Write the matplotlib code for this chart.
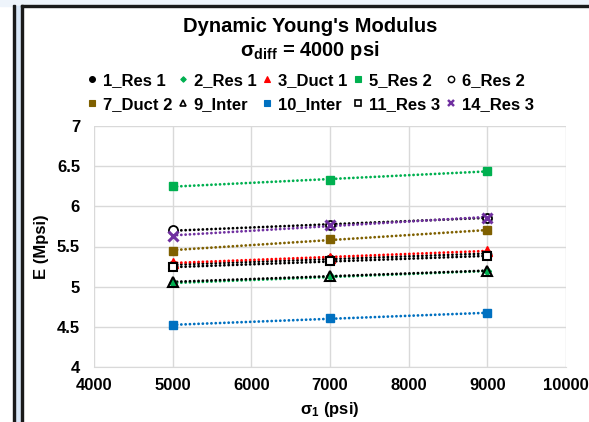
import numpy as np
import matplotlib
matplotlib.use("Agg")
import matplotlib.pyplot as plt
from matplotlib.patches import Rectangle
from matplotlib.lines import Line2D

plt.rcParams['font.family'] = ['Liberation Sans', 'DejaVu Sans']
plt.rcParams['mathtext.fontset'] = 'custom'
plt.rcParams['mathtext.rm'] = 'Liberation Sans'
plt.rcParams['mathtext.bf'] = 'Liberation Sans:bold'
plt.rcParams['mathtext.it'] = 'Liberation Sans:italic'

# ---- data ----
sigma1 = [5000, 7000, 9000]
labels = ["1_Res 1", "2_Res 1", "3_Duct 1", "5_Res 2", "6_Res 2",
          "7_Duct 2", "9_Inter", "10_Inter", "11_Res 3", "14_Res 3"]
res1_1 = [5.27, 5.35, 5.41]
res1_2 = [5.04, 5.13, 5.19]
duct1_3 = [5.30, 5.36, 5.45]
res2_5 = [6.25, 6.33, 6.44]
res2_6 = [5.70, 5.77, 5.86]
duct2_7 = [5.45, 5.59, 5.70]
inter_9 = [5.06, 5.13, 5.20]
inter_10 = [4.52, 4.61, 4.67]
res3_11 = [5.24, 5.32, 5.38]
res3_14 = [5.63, 5.77, 5.86]
series = [res1_1, res1_2, duct1_3, res2_5, res2_6,
          duct2_7, inter_9, inter_10, res3_11, res3_14]
x_ticks = [4000, 5000, 6000, 7000, 8000, 9000, 10000]
y_ticks = [4, 4.5, 5, 5.5, 6, 6.5, 7]
y_tick_labels = ["4", "4.5", "5", "5.5", "6", "6.5", "7"]

# ---- styles ----
GREEN = "#00B050"; RED = "#FF0000"; BROWN = "#7F6000"; BLUE = "#0070C0"; PURPLE = "#7030A0"
styles = [
    dict(marker='o', mfc='black', mec='black', color='black', ms=6),
    dict(marker='D', mfc=GREEN, mec=GREEN, color=GREEN, ms=4),
    dict(marker='^', mfc=RED, mec=RED, color=RED, ms=7),
    dict(marker='s', mfc=GREEN, mec=GREEN, color=GREEN, ms=6),
    dict(marker='o', mfc='white', mec='black', color='black', ms=6.5, mew=1.3),
    dict(marker='s', mfc=BROWN, mec=BROWN, color=BROWN, ms=6),
    dict(marker='^', mfc='none', mec='black', color='black', ms=7, mew=1.5),
    dict(marker='s', mfc=BLUE, mec=BLUE, color=BLUE, ms=6),
    dict(marker='s', mfc='white', mec='black', color='black', ms=6, mew=1.5),
    dict(marker='x', mfc=PURPLE, mec=PURPLE, color=PURPLE, ms=6.5, mew=2.2),
]

fig = plt.figure(figsize=(5.89, 4.22), dpi=100)
W, H = 589, 422

# frame decorations (figure pixel coords)
def px_rect(x0, y0, w, h, **kw):
    fig.patches.append(Rectangle((x0 / W, 1 - (y0 + h) / H), w / W, h / H,
                                 transform=fig.transFigure, figure=fig, **kw))

px_rect(0, 0, W, 6, color="#EEF4FB", zorder=0)
px_rect(15, 6, 7, H, color="#D9E7F7", zorder=0)
px_rect(13, 5, 2.2, H, color="#1A1A1A", zorder=1)
px_rect(21, 5, 2.2, H, color="#1A1A1A", zorder=1)
px_rect(21, 5, W, 2.2, color="#1A1A1A", zorder=1)

ax = fig.add_axes([94 / W, 1 - 367 / H, (566 - 94) / W, (367 - 126) / H])
ax.set_xlim(4000, 10000)
ax.set_ylim(4, 7)
ax.set_xticks(x_ticks)
ax.set_xticklabels([str(v) for v in x_ticks], fontsize=12, fontweight='bold')
ax.set_yticks(y_ticks)
ax.set_yticklabels(y_tick_labels, fontsize=12, fontweight='bold')
ax.tick_params(axis='y', length=0, pad=10)
ax.tick_params(axis='x', length=0, pad=8)
ax.grid(True, color="#D9D9D9", lw=1)
ax.set_axisbelow(True)
for s in ax.spines.values():
    s.set_visible(False)
ax.spines['bottom'].set_visible(True)
ax.spines['bottom'].set_color("#D9D9D9")

handles = []
xs = np.array(sigma1, dtype=float)
for vals, st, lab in zip(series, styles, labels):
    coef = np.polyfit(xs, vals, 1)
    ax.plot(xs, np.polyval(coef, xs), ls=(0, (0.05, 1.5)), lw=2.0,
            color=st['color'], zorder=2, dash_capstyle='round')
    ax.plot(xs, vals, ls='none', marker=st['marker'], ms=st['ms'],
            mfc=st['mfc'], mec=st['mec'], mew=st.get('mew', 1), zorder=3, clip_on=False)
    handles.append(Line2D([], [], ls='none', marker=st['marker'], ms=st['ms'] * 0.7,
                          mfc=st['mfc'], mec=st['mec'], mew=st.get('mew', 1) * 0.8, label=lab))

order = [0, 5, 1, 6, 2, 7, 3, 8, 4, 9]
fig.legend([handles[i] for i in order], [labels[i] for i in order], ncol=5,
           loc='center', bbox_to_anchor=(310 / W, 1 - 92.5 / H), frameon=False,
           prop=dict(size=12, weight='bold'), handlelength=0.7, handletextpad=0.3,
           columnspacing=0.3, labelspacing=0.55, borderpad=0)

fig.text(310 / W, 1 - 27 / H, "Dynamic Young's Modulus", ha='center', va='center',
         fontsize=14.5, fontweight='bold')
fig.text(310 / W, 1 - 50 / H, r"$\mathbf{\sigma_{diff}}$ = 4000 psi", ha='center', va='center',
         fontsize=14.5, fontweight='bold')
ax.set_xlabel(r"$\mathbf{\sigma_{1}}$ (psi)", fontsize=12, fontweight='bold', labelpad=5)
ax.set_ylabel("E (Mpsi)", fontsize=12, fontweight='bold', labelpad=6)

fig.savefig("out.png", dpi=100)
